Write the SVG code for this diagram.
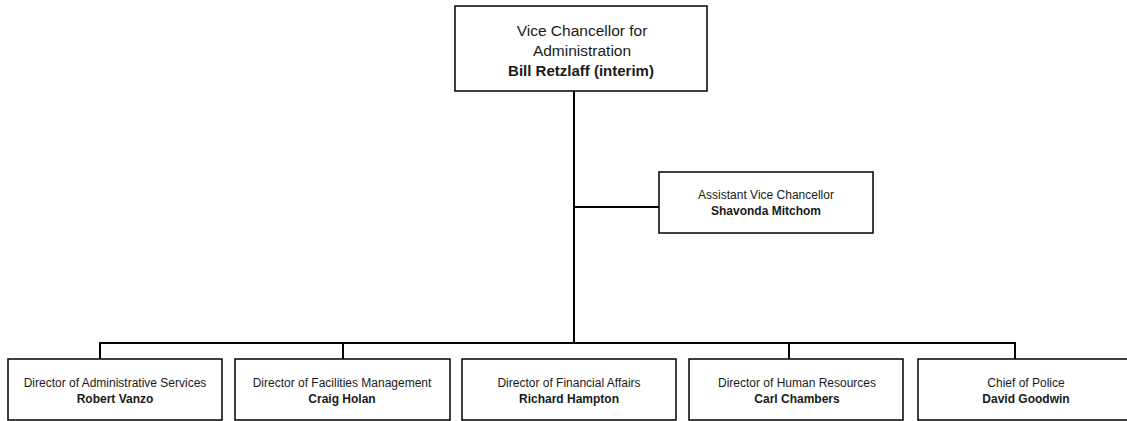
<svg xmlns="http://www.w3.org/2000/svg" width="1127" height="421" viewBox="0 0 1127 421">
<style>
.box{fill:#fff;stroke:#000;stroke-width:1.5}
.ln{fill:none;stroke:#000;stroke-width:2}
text{font-family:"Liberation Sans",Arial,sans-serif;fill:#1a1a1a;text-anchor:middle}
.t{font-size:15.5px}
.tb{font-size:15px;font-weight:bold}
.s{font-size:12px}
.b{font-weight:bold}
</style>
<rect width="1127" height="421" fill="#fff"/>
<g id="connectors">
<path class="ln" d="M574 91V343"/>
<path class="ln" d="M574 207H659"/>
<path class="ln" d="M100 359V343H1015V359"/>
<path class="ln" d="M343 343V359"/>
<path class="ln" d="M789 343V359"/>
</g>
<g id="vc">
<rect class="box" x="455" y="6" width="252" height="85"/>
<text class="t" x="582" y="36">Vice Chancellor for</text>
<text class="t" x="582" y="56">Administration</text>
<text class="tb" x="581" y="76">Bill Retzlaff (interim)</text>
</g>
<g id="avc">
<rect class="box" x="659" y="172" width="214" height="61"/>
<text class="s" x="766" y="199">Assistant Vice Chancellor</text>
<text class="s b" x="766" y="215">Shavonda Mitchom</text>
</g>
<g id="das">
<rect class="box" x="8" y="359" width="214" height="61"/>
<text class="s" x="115" y="387">Director of Administrative Services</text>
<text class="s b" x="115" y="403">Robert Vanzo</text>
</g>
<g id="dfm">
<rect class="box" x="235" y="359" width="215" height="61"/>
<text class="s" x="342" y="387">Director of Facilities Management</text>
<text class="s b" x="342" y="403">Craig Holan</text>
</g>
<g id="dfa">
<rect class="box" x="462" y="359" width="214" height="61"/>
<text class="s" x="569" y="387">Director of Financial Affairs</text>
<text class="s b" x="569" y="403">Richard Hampton</text>
</g>
<g id="dhr">
<rect class="box" x="689" y="359" width="214" height="61"/>
<text class="s" x="797" y="387">Director of Human Resources</text>
<text class="s b" x="797" y="403">Carl Chambers</text>
</g>
<g id="cop">
<rect class="box" x="918" y="359" width="216" height="61"/>
<text class="s" x="1026" y="387">Chief of Police</text>
<text class="s b" x="1026" y="403">David Goodwin</text>
</g>
</svg>
